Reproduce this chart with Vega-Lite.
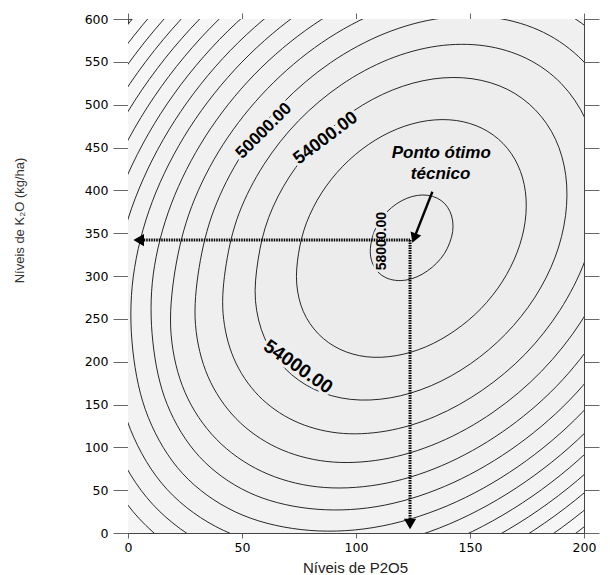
{
"$schema":"https://vega.github.io/schema/vega-lite/v6.json",
"width":456,"height":514,
"autosize":{"type":"none"},
"padding":{"left":128,"top":19,"right":26,"bottom":42},
"background":"white",
"config":{"view":{"stroke":"#444","strokeWidth":1,"fill":"#f9f9f9"}},
"resolve":{"axis":{"x":"independent","y":"independent"}},
"datasets":{
"contours":[
{"z":28000,"i":0,"u":267.4,"v":737.2},{"z":28000,"i":1,"u":290.6,"v":646.8},{"z":28000,"i":2,"u":302.5,"v":536.0},{"z":28000,"i":3,"u":302.2,"v":412.1},{"z":28000,"i":4,"u":289.9,"v":283.6},{"z":28000,"i":5,"u":266.2,"v":159.3},{"z":28000,"i":6,"u":232.9,"v":47.7},{"z":28000,"i":7,"u":192.2,"v":-43.7},{"z":28000,"i":8,"u":147.0,"v":-110.4},{"z":28000,"i":9,"u":99.8,"v":-147.4},{"z":28000,"i":10,"u":53.9,"v":-150.6},{"z":28000,"i":11,"u":12.0,"v":-120.8},{"z":28000,"i":12,"u":-21.6,"v":-55.8},{"z":28000,"i":13,"u":-43.6,"v":39.6},{"z":28000,"i":14,"u":-53.5,"v":154.0},{"z":28000,"i":15,"u":-53.2,"v":278.0},{"z":28000,"i":16,"u":-40.9,"v":406.4},{"z":28000,"i":17,"u":-17.2,"v":530.7},{"z":28000,"i":18,"u":16.1,"v":642.3},{"z":28000,"i":19,"u":56.8,"v":733.7},{"z":28000,"i":20,"u":102.1,"v":798.6},{"z":28000,"i":21,"u":148.9,"v":832.5},{"z":28000,"i":22,"u":194.1,"v":833.3},{"z":28000,"i":23,"u":234.5,"v":800.8},
{"z":30000,"i":0,"u":262.7,"v":724.0},{"z":30000,"i":1,"u":285.1,"v":636.7},{"z":30000,"i":2,"u":296.5,"v":529.6},{"z":30000,"i":3,"u":296.3,"v":409.8},{"z":30000,"i":4,"u":284.3,"v":285.7},{"z":30000,"i":5,"u":261.5,"v":165.5},{"z":30000,"i":6,"u":229.3,"v":57.6},{"z":30000,"i":7,"u":190.0,"v":-30.7},{"z":30000,"i":8,"u":146.2,"v":-95.2},{"z":30000,"i":9,"u":100.7,"v":-130.9},{"z":30000,"i":10,"u":56.3,"v":-134.0},{"z":30000,"i":11,"u":15.8,"v":-105.2},{"z":30000,"i":12,"u":-16.7,"v":-42.4},{"z":30000,"i":13,"u":-38.0,"v":49.8},{"z":30000,"i":14,"u":-47.5,"v":160.4},{"z":30000,"i":15,"u":-47.3,"v":280.2},{"z":30000,"i":16,"u":-35.3,"v":404.4},{"z":30000,"i":17,"u":-12.5,"v":524.5},{"z":30000,"i":18,"u":19.7,"v":632.4},{"z":30000,"i":19,"u":59.0,"v":720.7},{"z":30000,"i":20,"u":102.9,"v":783.4},{"z":30000,"i":21,"u":148.1,"v":816.2},{"z":30000,"i":22,"u":191.7,"v":817.0},{"z":30000,"i":23,"u":230.9,"v":785.5},
{"z":32000,"i":0,"u":257.7,"v":710.4},{"z":32000,"i":1,"u":279.3,"v":626.3},{"z":32000,"i":2,"u":290.4,"v":523.0},{"z":32000,"i":3,"u":290.1,"v":407.5},{"z":32000,"i":4,"u":278.6,"v":287.8},{"z":32000,"i":5,"u":256.5,"v":171.9},{"z":32000,"i":6,"u":225.5,"v":67.9},{"z":32000,"i":7,"u":187.6,"v":-17.2},{"z":32000,"i":8,"u":145.4,"v":-79.4},{"z":32000,"i":9,"u":101.5,"v":-113.9},{"z":32000,"i":10,"u":58.7,"v":-116.9},{"z":32000,"i":11,"u":19.7,"v":-89.0},{"z":32000,"i":12,"u":-11.6,"v":-28.5},{"z":32000,"i":13,"u":-32.2,"v":60.4},{"z":32000,"i":14,"u":-41.4,"v":167.0},{"z":32000,"i":15,"u":-41.1,"v":282.5},{"z":32000,"i":16,"u":-29.6,"v":402.2},{"z":32000,"i":17,"u":-7.5,"v":518.1},{"z":32000,"i":18,"u":23.5,"v":622.1},{"z":32000,"i":19,"u":61.4,"v":707.2},{"z":32000,"i":20,"u":103.6,"v":767.7},{"z":32000,"i":21,"u":147.3,"v":799.3},{"z":32000,"i":22,"u":189.3,"v":800.0},{"z":32000,"i":23,"u":227.0,"v":769.7},
{"z":34000,"i":0,"u":252.6,"v":696.3},{"z":34000,"i":1,"u":273.3,"v":615.4},{"z":34000,"i":2,"u":283.9,"v":516.1},{"z":34000,"i":3,"u":283.7,"v":405.1},{"z":34000,"i":4,"u":272.6,"v":290.0},{"z":34000,"i":5,"u":251.4,"v":178.6},{"z":34000,"i":6,"u":221.6,"v":78.7},{"z":34000,"i":7,"u":185.2,"v":-3.2},{"z":34000,"i":8,"u":144.6,"v":-63.0},{"z":34000,"i":9,"u":102.4,"v":-96.1},{"z":34000,"i":10,"u":61.3,"v":-99.0},{"z":34000,"i":11,"u":23.8,"v":-72.2},{"z":34000,"i":12,"u":-6.4,"v":-14.0},{"z":34000,"i":13,"u":-26.1,"v":71.4},{"z":34000,"i":14,"u":-34.9,"v":173.9},{"z":34000,"i":15,"u":-34.7,"v":284.9},{"z":34000,"i":16,"u":-23.6,"v":400.0},{"z":34000,"i":17,"u":-2.4,"v":511.4},{"z":34000,"i":18,"u":27.4,"v":611.4},{"z":34000,"i":19,"u":63.8,"v":693.2},{"z":34000,"i":20,"u":104.5,"v":751.3},{"z":34000,"i":21,"u":146.4,"v":781.8},{"z":34000,"i":22,"u":186.8,"v":782.4},{"z":34000,"i":23,"u":223.1,"v":753.3},
{"z":36000,"i":0,"u":247.2,"v":681.6},{"z":36000,"i":1,"u":267.1,"v":604.1},{"z":36000,"i":2,"u":277.3,"v":508.9},{"z":36000,"i":3,"u":277.0,"v":402.6},{"z":36000,"i":4,"u":266.4,"v":292.3},{"z":36000,"i":5,"u":246.1,"v":185.6},{"z":36000,"i":6,"u":217.5,"v":89.8},{"z":36000,"i":7,"u":182.6,"v":11.4},{"z":36000,"i":8,"u":143.8,"v":-45.9},{"z":36000,"i":9,"u":103.3,"v":-77.6},{"z":36000,"i":10,"u":63.9,"v":-80.4},{"z":36000,"i":11,"u":28.0,"v":-54.8},{"z":36000,"i":12,"u":-0.9,"v":1.0},{"z":36000,"i":13,"u":-19.8,"v":82.8},{"z":36000,"i":14,"u":-28.3,"v":181.1},{"z":36000,"i":15,"u":-28.0,"v":287.5},{"z":36000,"i":16,"u":-17.4,"v":397.7},{"z":36000,"i":17,"u":2.9,"v":504.4},{"z":36000,"i":18,"u":31.5,"v":600.2},{"z":36000,"i":19,"u":66.4,"v":678.6},{"z":36000,"i":20,"u":105.3,"v":734.3},{"z":36000,"i":21,"u":145.5,"v":763.5},{"z":36000,"i":22,"u":184.2,"v":764.1},{"z":36000,"i":23,"u":219.0,"v":736.2},
{"z":38000,"i":0,"u":241.6,"v":666.2},{"z":38000,"i":1,"u":260.6,"v":592.2},{"z":38000,"i":2,"u":270.3,"v":501.4},{"z":38000,"i":3,"u":270.0,"v":399.9},{"z":38000,"i":4,"u":259.9,"v":294.7},{"z":38000,"i":5,"u":240.5,"v":192.9},{"z":38000,"i":6,"u":213.3,"v":101.5},{"z":38000,"i":7,"u":180.0,"v":26.6},{"z":38000,"i":8,"u":142.9,"v":-28.0},{"z":38000,"i":9,"u":104.3,"v":-58.3},{"z":38000,"i":10,"u":66.7,"v":-60.9},{"z":38000,"i":11,"u":32.4,"v":-36.5},{"z":38000,"i":12,"u":4.9,"v":16.8},{"z":38000,"i":13,"u":-13.2,"v":94.8},{"z":38000,"i":14,"u":-21.3,"v":188.6},{"z":38000,"i":15,"u":-21.0,"v":290.1},{"z":38000,"i":16,"u":-10.9,"v":395.3},{"z":38000,"i":17,"u":8.5,"v":497.1},{"z":38000,"i":18,"u":35.7,"v":588.5},{"z":38000,"i":19,"u":69.0,"v":663.4},{"z":38000,"i":20,"u":106.2,"v":716.5},{"z":38000,"i":21,"u":144.5,"v":744.3},{"z":38000,"i":22,"u":181.5,"v":744.9},{"z":38000,"i":23,"u":214.6,"v":718.3},
{"z":40000,"i":0,"u":235.7,"v":650.0},{"z":40000,"i":1,"u":253.7,"v":579.8},{"z":40000,"i":2,"u":262.9,"v":493.5},{"z":40000,"i":3,"u":262.7,"v":397.2},{"z":40000,"i":4,"u":253.1,"v":297.2},{"z":40000,"i":5,"u":234.7,"v":200.6},{"z":40000,"i":6,"u":208.8,"v":113.8},{"z":40000,"i":7,"u":177.2,"v":42.7},{"z":40000,"i":8,"u":142.0,"v":-9.2},{"z":40000,"i":9,"u":105.3,"v":-38.0},{"z":40000,"i":10,"u":69.6,"v":-40.5},{"z":40000,"i":11,"u":37.0,"v":-17.3},{"z":40000,"i":12,"u":10.9,"v":33.3},{"z":40000,"i":13,"u":-6.3,"v":107.4},{"z":40000,"i":14,"u":-13.9,"v":196.5},{"z":40000,"i":15,"u":-13.7,"v":292.9},{"z":40000,"i":16,"u":-4.1,"v":392.8},{"z":40000,"i":17,"u":14.3,"v":489.4},{"z":40000,"i":18,"u":40.2,"v":576.3},{"z":40000,"i":19,"u":71.8,"v":647.3},{"z":40000,"i":20,"u":107.1,"v":697.8},{"z":40000,"i":21,"u":143.5,"v":724.2},{"z":40000,"i":22,"u":178.6,"v":724.8},{"z":40000,"i":23,"u":210.1,"v":699.5},
{"z":42000,"i":0,"u":229.5,"v":633.0},{"z":42000,"i":1,"u":246.5,"v":566.6},{"z":42000,"i":2,"u":255.2,"v":485.2},{"z":42000,"i":3,"u":255.0,"v":394.2},{"z":42000,"i":4,"u":245.9,"v":299.9},{"z":42000,"i":5,"u":228.5,"v":208.6},{"z":42000,"i":6,"u":204.1,"v":126.7},{"z":42000,"i":7,"u":174.2,"v":59.6},{"z":42000,"i":8,"u":141.0,"v":10.6},{"z":42000,"i":9,"u":106.4,"v":-16.6},{"z":42000,"i":10,"u":72.7,"v":-18.9},{"z":42000,"i":11,"u":41.9,"v":3.0},{"z":42000,"i":12,"u":17.2,"v":50.7},{"z":42000,"i":13,"u":1.1,"v":120.7},{"z":42000,"i":14,"u":-6.2,"v":204.8},{"z":42000,"i":15,"u":-6.0,"v":295.8},{"z":42000,"i":16,"u":3.1,"v":390.1},{"z":42000,"i":17,"u":20.5,"v":481.4},{"z":42000,"i":18,"u":44.9,"v":563.3},{"z":42000,"i":19,"u":74.8,"v":630.4},{"z":42000,"i":20,"u":108.1,"v":678.0},{"z":42000,"i":21,"u":142.4,"v":703.0},{"z":42000,"i":22,"u":175.6,"v":703.5},{"z":42000,"i":23,"u":205.3,"v":679.6},
{"z":44000,"i":0,"u":222.8,"v":614.8},{"z":44000,"i":1,"u":238.8,"v":552.6},{"z":44000,"i":2,"u":246.9,"v":476.4},{"z":44000,"i":3,"u":246.8,"v":391.1},{"z":44000,"i":4,"u":238.3,"v":302.8},{"z":44000,"i":5,"u":222.0,"v":217.2},{"z":44000,"i":6,"u":199.1,"v":140.5},{"z":44000,"i":7,"u":171.1,"v":77.6},{"z":44000,"i":8,"u":140.0,"v":31.7},{"z":44000,"i":9,"u":107.5,"v":6.3},{"z":44000,"i":10,"u":75.9,"v":4.0},{"z":44000,"i":11,"u":47.1,"v":24.6},{"z":44000,"i":12,"u":24.0,"v":69.3},{"z":44000,"i":13,"u":8.9,"v":134.9},{"z":44000,"i":14,"u":2.1,"v":213.6},{"z":44000,"i":15,"u":2.3,"v":298.9},{"z":44000,"i":16,"u":10.7,"v":387.2},{"z":44000,"i":17,"u":27.0,"v":472.8},{"z":44000,"i":18,"u":49.9,"v":549.5},{"z":44000,"i":19,"u":77.9,"v":612.4},{"z":44000,"i":20,"u":109.1,"v":657.0},{"z":44000,"i":21,"u":141.3,"v":680.4},{"z":44000,"i":22,"u":172.4,"v":680.9},{"z":44000,"i":23,"u":200.2,"v":658.5},
{"z":46000,"i":0,"u":215.7,"v":595.3},{"z":46000,"i":1,"u":230.5,"v":537.7},{"z":46000,"i":2,"u":238.1,"v":466.9},{"z":46000,"i":3,"u":237.9,"v":387.8},{"z":46000,"i":4,"u":230.1,"v":305.8},{"z":46000,"i":5,"u":214.9,"v":226.5},{"z":46000,"i":6,"u":193.7,"v":155.2},{"z":46000,"i":7,"u":167.7,"v":96.9},{"z":46000,"i":8,"u":138.8,"v":54.3},{"z":46000,"i":9,"u":108.8,"v":30.7},{"z":46000,"i":10,"u":79.4,"v":28.6},{"z":46000,"i":11,"u":52.7,"v":47.7},{"z":46000,"i":12,"u":31.3,"v":89.2},{"z":46000,"i":13,"u":17.2,"v":150.0},{"z":46000,"i":14,"u":10.9,"v":223.1},{"z":46000,"i":15,"u":11.1,"v":302.2},{"z":46000,"i":16,"u":19.0,"v":384.2},{"z":46000,"i":17,"u":34.1,"v":463.5},{"z":46000,"i":18,"u":55.3,"v":534.8},{"z":46000,"i":19,"u":81.3,"v":593.1},{"z":46000,"i":20,"u":110.2,"v":634.5},{"z":46000,"i":21,"u":140.1,"v":656.2},{"z":46000,"i":22,"u":168.9,"v":656.7},{"z":46000,"i":23,"u":194.7,"v":635.9},
{"z":48000,"i":0,"u":208.0,"v":574.2},{"z":48000,"i":1,"u":221.6,"v":521.4},{"z":48000,"i":2,"u":228.5,"v":456.6},{"z":48000,"i":3,"u":228.4,"v":384.2},{"z":48000,"i":4,"u":221.1,"v":309.1},{"z":48000,"i":5,"u":207.3,"v":236.5},{"z":48000,"i":6,"u":187.9,"v":171.2},{"z":48000,"i":7,"u":164.1,"v":117.8},{"z":48000,"i":8,"u":137.6,"v":78.6},{"z":48000,"i":9,"u":110.1,"v":56.6},{"z":48000,"i":10,"u":83.0,"v":53.9},{"z":48000,"i":11,"u":58.6,"v":72.0},{"z":48000,"i":12,"u":38.7,"v":109.6},{"z":48000,"i":13,"u":25.0,"v":164.2},{"z":48000,"i":14,"u":18.9,"v":231.7},{"z":48000,"i":15,"u":20.6,"v":305.8},{"z":48000,"i":16,"u":27.9,"v":380.9},{"z":48000,"i":17,"u":41.7,"v":453.5},{"z":48000,"i":18,"u":61.2,"v":518.8},{"z":48000,"i":19,"u":84.9,"v":572.2},{"z":48000,"i":20,"u":111.4,"v":610.1},{"z":48000,"i":21,"u":138.8,"v":629.9},{"z":48000,"i":22,"u":165.2,"v":630.4},{"z":48000,"i":23,"u":188.8,"v":611.4},
{"z":50000,"i":0,"u":199.6,"v":550.9},{"z":50000,"i":1,"u":211.7,"v":503.5},{"z":50000,"i":2,"u":218.0,"v":445.3},{"z":50000,"i":3,"u":217.8,"v":380.2},{"z":50000,"i":4,"u":211.3,"v":312.8},{"z":50000,"i":5,"u":198.9,"v":247.5},{"z":50000,"i":6,"u":181.4,"v":188.9},{"z":50000,"i":7,"u":160.1,"v":140.9},{"z":50000,"i":8,"u":136.3,"v":105.7},{"z":50000,"i":9,"u":111.5,"v":85.9},{"z":50000,"i":10,"u":87.2,"v":83.5},{"z":50000,"i":11,"u":65.3,"v":99.7},{"z":50000,"i":12,"u":47.4,"v":133.5},{"z":50000,"i":13,"u":35.1,"v":182.6},{"z":50000,"i":14,"u":29.6,"v":243.2},{"z":50000,"i":15,"u":31.2,"v":309.8},{"z":50000,"i":16,"u":37.7,"v":377.2},{"z":50000,"i":17,"u":50.1,"v":442.5},{"z":50000,"i":18,"u":67.6,"v":501.1},{"z":50000,"i":19,"u":88.9,"v":549.1},{"z":50000,"i":20,"u":112.7,"v":583.2},{"z":50000,"i":21,"u":137.3,"v":601.0},{"z":50000,"i":22,"u":161.0,"v":601.4},{"z":50000,"i":23,"u":182.3,"v":584.3},
{"z":52000,"i":0,"u":190.0,"v":524.7},{"z":52000,"i":1,"u":200.6,"v":483.3},{"z":52000,"i":2,"u":206.0,"v":432.5},{"z":52000,"i":3,"u":205.9,"v":375.7},{"z":52000,"i":4,"u":200.3,"v":316.9},{"z":52000,"i":5,"u":189.4,"v":259.9},{"z":52000,"i":6,"u":174.2,"v":208.8},{"z":52000,"i":7,"u":155.5,"v":166.9},{"z":52000,"i":8,"u":134.8,"v":136.2},{"z":52000,"i":9,"u":113.2,"v":119.0},{"z":52000,"i":10,"u":92.0,"v":116.8},{"z":52000,"i":11,"u":72.8,"v":131.0},{"z":52000,"i":12,"u":57.2,"v":160.5},{"z":52000,"i":13,"u":46.5,"v":203.3},{"z":52000,"i":14,"u":41.7,"v":256.2},{"z":52000,"i":15,"u":43.1,"v":314.3},{"z":52000,"i":16,"u":48.7,"v":373.1},{"z":52000,"i":17,"u":59.6,"v":430.1},{"z":52000,"i":18,"u":74.8,"v":481.2},{"z":52000,"i":19,"u":93.5,"v":523.1},{"z":52000,"i":20,"u":114.2,"v":552.8},{"z":52000,"i":21,"u":135.7,"v":568.4},{"z":52000,"i":22,"u":156.4,"v":568.7},{"z":52000,"i":23,"u":174.9,"v":553.8},
{"z":54000,"i":0,"u":178.7,"v":493.8},{"z":54000,"i":1,"u":187.5,"v":459.6},{"z":54000,"i":2,"u":192.0,"v":417.5},{"z":54000,"i":3,"u":191.9,"v":370.4},{"z":54000,"i":4,"u":187.3,"v":321.7},{"z":54000,"i":5,"u":178.3,"v":274.5},{"z":54000,"i":6,"u":165.6,"v":232.2},{"z":54000,"i":7,"u":150.2,"v":197.5},{"z":54000,"i":8,"u":133.0,"v":172.0},{"z":54000,"i":9,"u":115.1,"v":157.8},{"z":54000,"i":10,"u":97.6,"v":156.0},{"z":54000,"i":11,"u":81.7,"v":167.7},{"z":54000,"i":12,"u":68.8,"v":192.2},{"z":54000,"i":13,"u":59.9,"v":227.6},{"z":54000,"i":14,"u":55.9,"v":271.4},{"z":54000,"i":15,"u":57.1,"v":319.6},{"z":54000,"i":16,"u":61.7,"v":368.3},{"z":54000,"i":17,"u":70.7,"v":415.5},{"z":54000,"i":18,"u":83.4,"v":457.8},{"z":54000,"i":19,"u":98.8,"v":492.5},{"z":54000,"i":20,"u":116.0,"v":517.1},{"z":54000,"i":21,"u":133.8,"v":530.0},{"z":54000,"i":22,"u":150.9,"v":530.3},{"z":54000,"i":23,"u":166.3,"v":518.0},
{"z":56000,"i":0,"u":164.5,"v":454.7},{"z":56000,"i":1,"u":171.0,"v":429.4},{"z":56000,"i":2,"u":174.3,"v":398.4},{"z":56000,"i":3,"u":174.2,"v":363.8},{"z":56000,"i":4,"u":170.7,"v":327.8},{"z":56000,"i":5,"u":164.1,"v":293.1},{"z":56000,"i":6,"u":154.8,"v":261.9},{"z":56000,"i":7,"u":143.4,"v":236.3},{"z":56000,"i":8,"u":130.8,"v":217.5},{"z":56000,"i":9,"u":117.6,"v":207.0},{"z":56000,"i":10,"u":104.7,"v":205.7},{"z":56000,"i":11,"u":93.0,"v":214.4},{"z":56000,"i":12,"u":83.5,"v":232.4},{"z":56000,"i":13,"u":76.9,"v":258.5},{"z":56000,"i":14,"u":74.0,"v":290.8},{"z":56000,"i":15,"u":74.8,"v":326.3},{"z":56000,"i":16,"u":78.3,"v":362.2},{"z":56000,"i":17,"u":84.9,"v":396.9},{"z":56000,"i":18,"u":94.2,"v":428.1},{"z":56000,"i":19,"u":105.6,"v":453.7},{"z":56000,"i":20,"u":118.2,"v":471.8},{"z":56000,"i":21,"u":131.3,"v":481.3},{"z":56000,"i":22,"u":144.0,"v":481.5},{"z":56000,"i":23,"u":155.3,"v":472.4},
{"z":58000,"i":0,"u":138.9,"v":384.5},{"z":58000,"i":1,"u":141.2,"v":375.4},{"z":58000,"i":2,"u":142.4,"v":364.2},{"z":58000,"i":3,"u":142.4,"v":351.8},{"z":58000,"i":4,"u":141.1,"v":338.8},{"z":58000,"i":5,"u":138.8,"v":326.3},{"z":58000,"i":6,"u":135.4,"v":315.1},{"z":58000,"i":7,"u":131.3,"v":305.9},{"z":58000,"i":8,"u":126.8,"v":299.1},{"z":58000,"i":9,"u":122.0,"v":295.3},{"z":58000,"i":10,"u":117.4,"v":294.9},{"z":58000,"i":11,"u":113.1,"v":298.0},{"z":58000,"i":12,"u":109.7,"v":304.5},{"z":58000,"i":13,"u":107.4,"v":313.9},{"z":58000,"i":14,"u":106.3,"v":325.5},{"z":58000,"i":15,"u":106.6,"v":338.3},{"z":58000,"i":16,"u":107.9,"v":351.2},{"z":58000,"i":17,"u":110.2,"v":363.7},{"z":58000,"i":18,"u":113.6,"v":374.9},{"z":58000,"i":19,"u":117.7,"v":384.1},{"z":58000,"i":20,"u":122.3,"v":390.7},{"z":58000,"i":21,"u":127.0,"v":394.1},{"z":58000,"i":22,"u":131.5,"v":394.2},{"z":58000,"i":23,"u":135.6,"v":390.9}
],
"labels":[
{"k":"a","t":"50000.00","u":59.6,"v":469.4},
{"k":"b","t":"54000.00","u":86.7,"v":460.6},
{"k":"c","t":"54000.00","u":74.6,"v":194.1},
{"k":"d","t":"58000.00","u":111.4,"v":340.7}
],
"guides":[
{"seg":"h","i":0,"u":4.7,"v":342},{"seg":"h","i":1,"u":123.7,"v":342},
{"seg":"v","i":0,"u":123.7,"v":342},{"seg":"v","i":1,"u":123.7,"v":10.5}
],
"pointer":[{"i":0,"u":133.5,"v":398.3},{"i":1,"u":125.5,"v":344.2}],
"heads":[{"k":"l","u":4.7,"v":342},{"k":"d","u":123.7,"v":10.5},{"k":"p","u":125.5,"v":344.2}],
"notes":[{"t":"Ponto ótimo","u":137.4,"v":443.9},{"t":"técnico","u":137.1,"v":418.6}]
},
"layer":[
{"data":{"name":"contours"},
 "mark":{"type":"line","interpolate":"cardinal-closed","clip":true,"stroke":"#111","strokeWidth":0.9},
 "encoding":{
  "x":{"field":"u","type":"quantitative","scale":{"domain":[0,200],"nice":false,"zero":false},
       "axis":{"orient":"bottom","values":[0,50,100,150,200],"title":"Níveis de P2O5","grid":false,"tickSize":5,"tickColor":"#666","domainColor":"#444","labelFont":"DejaVu Sans","labelFontSize":12.5,"labelColor":"#000","labelPadding":3,"labelFlush":false,"labelOverlap":false,"titleFont":"Liberation Sans","titleFontSize":15,"titleFontWeight":"normal","titleColor":"#222","titleBaseline":"alphabetic","titleX":227,"titleY":39}},
  "y":{"field":"v","type":"quantitative","scale":{"domain":[0,600],"nice":false,"zero":false},
       "axis":{"orient":"left","values":[0,50,100,150,200,250,300,350,400,450,500,550,600],"title":"Níveis de K₂O (kg/ha)","grid":false,"tickSize":15,"tickColor":"#666","domainColor":"#444","labelFont":"DejaVu Sans","labelFontSize":12.5,"labelColor":"#000","labelPadding":5,"labelFlush":false,"labelOverlap":false,"titleFont":"Liberation Sans","titleFontSize":13,"titleFontWeight":"normal","titleColor":"#333","titleX":-109,"titleY":201,"titleAngle":270,"titleBaseline":"middle","titleAlign":"center"}},
  "detail":{"field":"z","type":"nominal"},
  "order":{"field":"i","type":"quantitative"},
  "fill":{"field":"z","type":"quantitative","scale":{"domain":[28000,58000],"range":["#f9f9f9","#ebebeb"]},"legend":null}
 }},
{"data":{"name":"labels"},
 "encoding":{"x":{"field":"u","type":"quantitative","axis":null},"y":{"field":"v","type":"quantitative","axis":null},"text":{"field":"t"}},
 "layer":[
  {"transform":[{"filter":"datum.k=='a'"}],"mark":{"type":"text","angle":315,"font":"Liberation Sans","fontWeight":"bold","fontSize":17,"fill":"#efefef","stroke":"#efefef","strokeWidth":6,"align":"center","baseline":"middle"}},
  {"transform":[{"filter":"datum.k=='a'"}],"mark":{"type":"text","angle":315,"font":"Liberation Sans","fontWeight":"bold","fontSize":17,"fill":"#000","align":"center","baseline":"middle"}},
  {"transform":[{"filter":"datum.k=='b'"}],"mark":{"type":"text","angle":323,"font":"Liberation Sans","fontWeight":"bold","fontSize":18,"fill":"#eeeeee","stroke":"#eeeeee","strokeWidth":6,"align":"center","baseline":"middle"}},
  {"transform":[{"filter":"datum.k=='b'"}],"mark":{"type":"text","angle":323,"font":"Liberation Sans","fontWeight":"bold","fontSize":18,"fill":"#000","align":"center","baseline":"middle"}},
  {"transform":[{"filter":"datum.k=='c'"}],"mark":{"type":"text","angle":35,"font":"Liberation Sans","fontWeight":"bold","fontSize":19,"fill":"#eeeeee","stroke":"#eeeeee","strokeWidth":6,"align":"center","baseline":"middle"}},
  {"transform":[{"filter":"datum.k=='c'"}],"mark":{"type":"text","angle":35,"font":"Liberation Sans","fontWeight":"bold","fontSize":19,"fill":"#000","align":"center","baseline":"middle"}},
  {"transform":[{"filter":"datum.k=='d'"}],"mark":{"type":"text","angle":270,"font":"Liberation Sans","fontWeight":"bold","fontSize":14,"fill":"#ececec","stroke":"#ececec","strokeWidth":5,"align":"center","baseline":"middle"}},
  {"transform":[{"filter":"datum.k=='d'"}],"mark":{"type":"text","angle":270,"font":"Liberation Sans","fontWeight":"bold","fontSize":14,"fill":"#000","align":"center","baseline":"middle"}}
 ]},
{"data":{"name":"guides"},
 "mark":{"type":"line","stroke":"#000","strokeWidth":3,"strokeDash":[1.5,1]},
 "encoding":{
  "x":{"field":"u","type":"quantitative","axis":{"orient":"top","values":[0,50,100,150,200],"labels":false,"title":null,"grid":false,"tickSize":6,"tickColor":"#666","domainColor":"#444"}},
  "y":{"field":"v","type":"quantitative","axis":{"orient":"right","values":[0,50,100,150,200,250,300,350,400,450,500,550,600],"labels":false,"title":null,"grid":false,"tickSize":15,"tickColor":"#666","domainColor":"#444"}},
  "detail":{"field":"seg","type":"nominal"},
  "order":{"field":"i","type":"quantitative"}
 }},
{"data":{"name":"pointer"},
 "mark":{"type":"line","stroke":"#000","strokeWidth":2.4},
 "encoding":{"x":{"field":"u","type":"quantitative","axis":null},"y":{"field":"v","type":"quantitative","axis":null},"order":{"field":"i","type":"quantitative"}}},
{"data":{"name":"heads"},
 "encoding":{"x":{"field":"u","type":"quantitative","axis":null},"y":{"field":"v","type":"quantitative","axis":null}},
 "layer":[
  {"transform":[{"filter":"datum.k=='l'"}],"mark":{"type":"point","shape":"triangle-left","filled":true,"color":"#000","opacity":1,"size":150}},
  {"transform":[{"filter":"datum.k=='d'"}],"mark":{"type":"point","shape":"triangle-down","filled":true,"color":"#000","opacity":1,"size":150}},
  {"transform":[{"filter":"datum.k=='p'"}],"mark":{"type":"point","shape":"triangle-down","angle":21,"filled":true,"color":"#000","opacity":1,"size":130}}
 ]},
{"data":{"name":"notes"},
 "mark":{"type":"text","font":"Liberation Sans","fontWeight":"bold","fontStyle":"italic","fontSize":17,"fill":"#000","align":"center","baseline":"middle"},
 "encoding":{"x":{"field":"u","type":"quantitative","axis":null},"y":{"field":"v","type":"quantitative","axis":null},"text":{"field":"t"}}}
]
}
